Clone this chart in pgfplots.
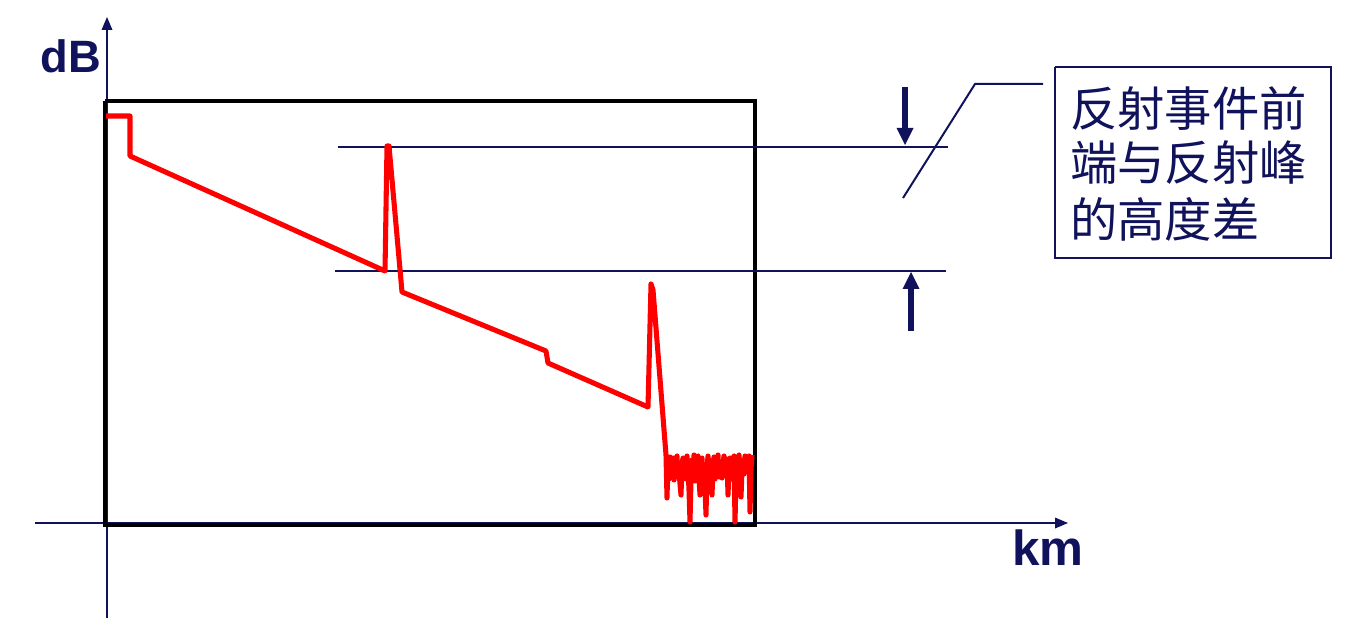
\documentclass[border=0pt]{standalone}
\usepackage{pgfplots}
\pgfplotsset{compat=1.18}
\usepackage{fontspec}
\setmainfont{Liberation Sans}
\newfontfamily\cjk{Noto Sans CJK SC}
\definecolor{navy}{RGB}{16,18,92}
\definecolor{tracered}{RGB}{255,0,0}
\begin{document}
\begin{tikzpicture}
\begin{axis}[
  scale only axis, width=1011pt, height=471.75pt,
  xmin=0, xmax=1348, ymin=0, ymax=629,
  axis line style={draw=none}, xtick=\empty, ytick=\empty,
  clip=false,
]
% axes lines (navy)
\addplot[navy, line width=1.5pt] coordinates {(106.5,11) (106.5,600)};
\addplot[navy, fill=navy, draw=none] coordinates {(101.5,599) (112.5,599) (107,612) (101.5,599)};
\addplot[navy, line width=1.5pt] coordinates {(35,106) (1056,106)};
\addplot[navy, fill=navy, draw=none] coordinates {(1055,100.5) (1055,111.5) (1068,106) (1055,100.5)};
% black frame
\addplot[black, line width=3pt] coordinates {(105,528) (755,528) (755,104) (105,104) (105,528)};
% reference lines
\addplot[navy, line width=1.5pt] coordinates {(338,482) (948,482)};
\addplot[navy, line width=1.5pt] coordinates {(335,358) (946,358)};
% trace
\addplot[tracered, line width=3.8pt, line join=round] coordinates {
(106,513) (130,513) (130,473) (385,358) (387,483) (389,483) (402,337)
(546,278) (548,266) (648,222) (651,345) (653,339) (666,174) (667,131)
(668,169) (669,150) (670,172) (671,159) (672,165) (673,171) (674,149)
(675,160) (677,173) (678,152) (679,159) (680,145) (681,134) (682,165)
(683,171) (684,158) (685,164) (686,150) (687,173) (688,160) (689,139)
(690,107) (691,150) (692,169) (693,158) (694,174) (695,148) (696,159)
(697,168) (698,173) (699,150) (700,134) (701,162) (702,171) (703,150)
(704,159) (705,140) (706,114) (707,160) (708,173) (709,162) (710,149)
(711,168) (712,134) (713,160) (714,172) (715,150) (716,169) (717,160)
(718,174) (719,152) (720,167) (721,160) (722,151) (723,165) (724,173)
(725,155) (726,159) (727,170) (728,134) (729,160) (730,171) (731,150)
(732,163) (733,168) (734,173) (735,107) (736,150) (737,159) (738,170)
(739,174) (740,150) (741,132) (742,160) (743,169) (744,155) (745,173)
(746,162) (747,159) (748,170) (749,173) (750,117) (751,160) (752,174)};
% arrows
\addplot[navy, line width=4.5pt] coordinates {(905,542) (905,500)};
\addplot[navy, fill=navy, draw=none] coordinates {(896.5,501) (913.5,501) (905,484) (896.5,501)};
\addplot[navy, line width=4.5pt] coordinates {(911,298) (911,341)};
\addplot[navy, fill=navy, draw=none] coordinates {(902.5,340) (919.5,340) (911,357) (902.5,340)};
% leader
\addplot[navy, line width=1.5pt] coordinates {(903,431) (975,545) (1043,545)};
% text box
\addplot[navy, line width=1.5pt] coordinates {(1055,562) (1331,562) (1331,371) (1055,371) (1055,562)};
\node[anchor=west, inner sep=0pt, text=navy, font=\cjk\fontsize{35.5}{42}\selectfont] at (axis cs:1070,521) {反射事件前};
\node[anchor=west, inner sep=0pt, text=navy, font=\cjk\fontsize{35.5}{42}\selectfont] at (axis cs:1070,466) {端与反射峰};
\node[anchor=west, inner sep=0pt, text=navy, font=\cjk\fontsize{35.5}{42}\selectfont] at (axis cs:1070,410) {的高度差};
% axis labels
\node[anchor=base, inner sep=0pt, text=navy, font=\bfseries\fontsize{34}{40}\selectfont] at (axis cs:71,556) {dB};
\node[anchor=base, inner sep=0pt, text=navy, font=\bfseries\fontsize{37}{44}\selectfont] at (axis cs:1048,64) {km};
\end{axis}
\end{tikzpicture}
\end{document}
